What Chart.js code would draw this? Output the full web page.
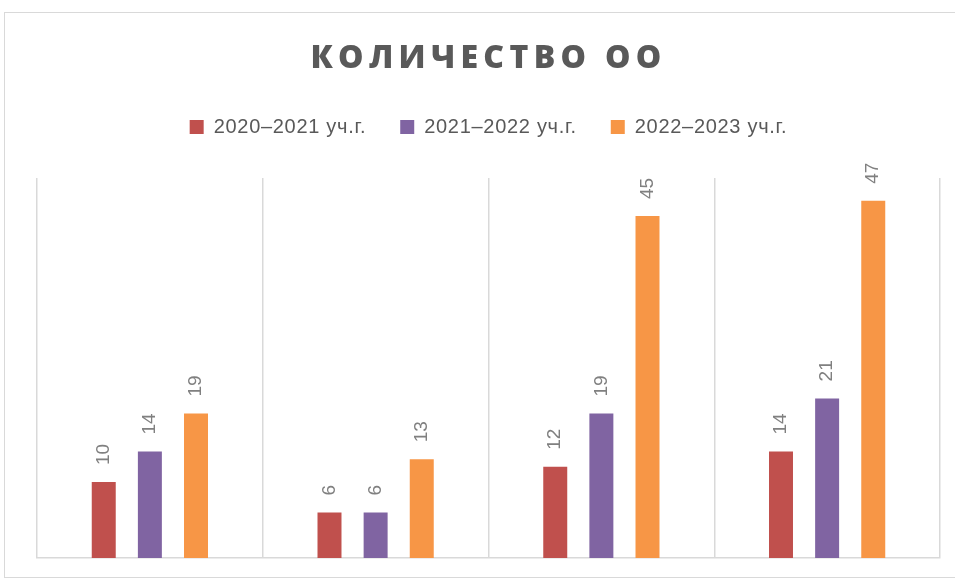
<!DOCTYPE html>
<html>
<head>
<meta charset="utf-8">
<script src="https://cdn.jsdelivr.net/npm/chart.js@4.4.1/dist/chart.umd.min.js"></script>
<style>
  html, body { margin: 0; padding: 0; background: #fff; }
  #wrap { position: relative; width: 955px; height: 581px; }
  #frame { position: absolute; left: 4px; top: 12px; width: 960px; height: 566px; border: 1px solid #d9d9d9; box-sizing: border-box; }
  canvas { position: absolute; left: 0; top: 0; }
</style>
</head>
<body>
<div id="wrap">
  <div id="frame"></div>
  <canvas id="chart" width="955" height="581"></canvas>
</div>
<script>
// Data
const categories = ["", "", "", ""];
const seriesNames = ["2020–2021 уч.г.", "2021–2022 уч.г.", "2022–2023 уч.г."];
const values2020 = [10, 6, 12, 14];
const values2021 = [14, 6, 19, 21];
const values2022 = [19, 13, 45, 47];
const seriesColors = ["#C0504D", "#8064A2", "#F79646"];
const chartTitle = "КОЛИЧЕСТВО ОО";

// spaced-out title like the Excel original
const spacedTitle = {
    id: 'spacedTitle',
    beforeUpdate(chart) { chart.ctx.letterSpacing = '0.7px'; },
    beforeDraw(chart) { chart.ctx.letterSpacing = '0.7px'; },
    afterDraw(chart) {
        const ctx = chart.ctx;
        ctx.save();
        ctx.letterSpacing = '5.3px';
        ctx.font = '800 32px "Open Sans", sans-serif';
        ctx.fillStyle = '#595959';
        ctx.textAlign = 'center';
        ctx.textBaseline = 'alphabetic';
        ctx.fillText(chartTitle, chart.width / 2 + 11, 68);
        ctx.restore();
    }
};

// extra room under the legend
const legendGap = {
    id: 'legendGap',
    beforeInit(chart) {
        const fit = chart.legend.fit;
        chart.legend.fit = function () {
            fit.call(this);
            this.height += 31;
        };
    }
};

// rotated value labels above bars
const valueLabels = {
    id: 'valueLabels',
    afterDatasetsDraw(chart) {
        const ctx = chart.ctx;
        ctx.save();
        ctx.letterSpacing = '0px';
        ctx.font = '19px "Liberation Sans", Arial, sans-serif';
        ctx.fillStyle = '#808080';
        ctx.textAlign = 'left';
        ctx.textBaseline = 'middle';
        chart.data.datasets.forEach((ds, i) => {
            chart.getDatasetMeta(i).data.forEach((bar, j) => {
                ctx.save();
                ctx.translate(bar.x, bar.y - 17);
                ctx.rotate(-Math.PI / 2);
                ctx.fillText(String(ds.data[j]), 0, 0);
                ctx.restore();
            });
        });
        ctx.restore();
    }
};

const ctx = document.getElementById('chart').getContext('2d');
new Chart(ctx, {
    type: 'bar',
    data: {
        labels: categories,
        datasets: [
            { label: seriesNames[0], data: values2020, backgroundColor: seriesColors[0] },
            { label: seriesNames[1], data: values2021, backgroundColor: seriesColors[1] },
            { label: seriesNames[2], data: values2022, backgroundColor: seriesColors[2] }
        ]
    },
    options: {
        responsive: false,
        animation: false,
        datasets: {
            bar: { categoryPercentage: 0.613, barPercentage: 0.52 }
        },
        layout: { padding: { left: 37, right: 15, top: 83, bottom: 23 } },
        plugins: {
            title: { display: false },
            legend: {
                position: 'top',
                labels: {
                    color: '#595959',
                    font: { family: '"Liberation Sans", sans-serif', size: 20 },
                    boxWidth: 14,
                    boxHeight: 14,
                    padding: 34
                }
            },
            tooltip: { enabled: false }
        },
        scales: {
            x: {
                grid: { color: '#d9d9d9', lineWidth: 1.5, drawTicks: false },
                border: { color: '#d9d9d9', width: 1.5 },
                ticks: { display: false }
            },
            y: {
                display: false,
                min: 0,
                max: 50
            }
        }
    },
    plugins: [spacedTitle, legendGap, valueLabels]
});
</script>
</body>
</html>
